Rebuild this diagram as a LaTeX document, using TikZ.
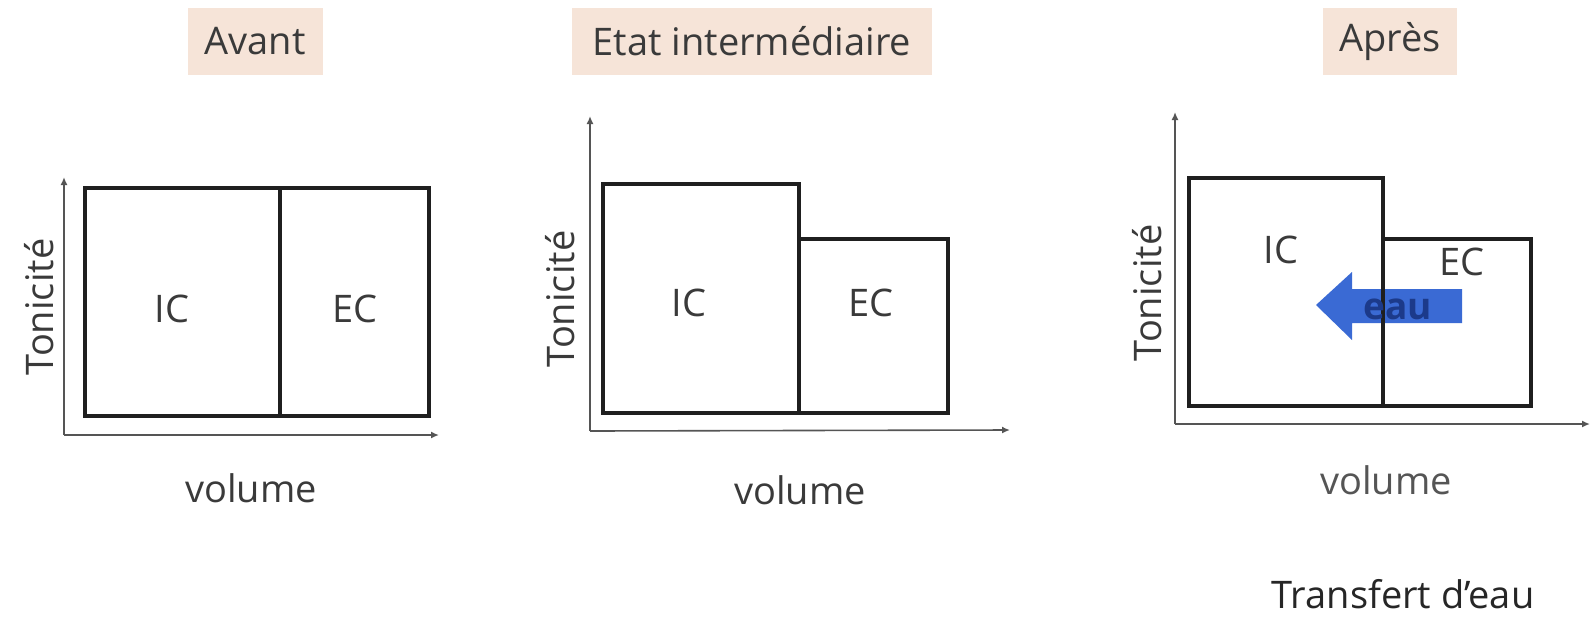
\documentclass[tikz,border=0pt]{standalone}
\usepackage{fontspec}
\setmainfont{Open Sans}
\usetikzlibrary{arrows.meta}
\definecolor{peach}{HTML}{F6E4D8}
\definecolor{txt}{HTML}{3A3A3A}
\definecolor{ax}{HTML}{555555}
\definecolor{arrowblue}{HTML}{3A6AD4}
\definecolor{navy}{HTML}{1C3A8A}
\begin{document}
\begin{tikzpicture}[x=0.5pt,y=-0.5pt,
  lbl/.style={font=\fontsize{19}{22}\selectfont, text=txt, inner sep=0pt},
  title/.style={lbl, fill=peach, minimum height=33.5pt},
  box/.style={line width=2pt, black!88},
  axis/.style={line width=0.8pt, ax, -{Latex[length=4pt,width=3.5pt]}}]
\useasboundingbox (0,0) rectangle (1592,617);
\fill[white] (0,0) rectangle (1592,617);

% ---------- Panel 1 : Avant ----------
\node[title, minimum width=67.5pt] (t1) at (255,41.5) {Avant};
\coordinate (o1) at (64,435);
\coordinate (y1) at (64,177);
\coordinate (x1) at (439,435);
\draw[axis] (o1) -- (y1);
\draw[axis] (o1) -- (x1);
\draw[box] (85,188) rectangle (429,416);
\draw[box] (280,188) -- (280,416);
\node[lbl] (ic1) at (172,309) {IC};
\node[lbl] (ec1) at (355,309) {EC};
\node[lbl, rotate=90] (ton1) at (39,307) {Tonicité};
\node[lbl] (vol1) at (251,488) {volume};

% ---------- Panel 2 : Etat intermediaire ----------
\node[title, minimum width=180pt] (t2) at (752,41.5) {Etat intermédiaire};
\coordinate (o2) at (590,431);
\coordinate (y2) at (590,116);
\coordinate (x2) at (1010,430);
\draw[axis] (o2) -- (y2);
\draw[axis] (o2) -- (x2);
\draw[box] (603,184) rectangle (799,413);
\draw[box] (799,239) rectangle (948,413);
\node[lbl] (ic2) at (689,303) {IC};
\node[lbl] (ec2) at (871,303) {EC};
\node[lbl, rotate=90] (ton2) at (560,299) {Tonicité};
\node[lbl] (vol2) at (800,490) {volume};

% ---------- Panel 3 : Apres ----------
\node[title, minimum width=67pt] (t3) at (1390,41.5) {Après};
\coordinate (o3) at (1175,424);
\coordinate (y3) at (1175,112);
\coordinate (x3) at (1590,424);
\draw[axis] (o3) -- (y3);
\draw[axis] (o3) -- (x3);
\fill[arrowblue] (1316,305) -- (1352,272) -- (1352,289) -- (1462,289)
  -- (1462,323) -- (1352,323) -- (1352,340) -- cycle;
\draw[box, line width=1.8pt] (1189,178) rectangle (1383,406);
\draw[box, line width=1.8pt] (1383,239) rectangle (1531,406);
\node[lbl] (ic3) at (1281,250) {IC};
\node[lbl] (ec3) at (1462,262) {EC};
\node[lbl, text=navy, font=\fontsize{18.5}{22}\selectfont\bfseries] (eau) at (1398,309) {eau};
\node[lbl, rotate=90] (ton3) at (1147,293) {Tonicité};
\node[lbl, text=ax] (vol3) at (1386,480) {volume};
\node[lbl, text=black!85] (trans) at (1403,594) {Transfert d’eau};
\end{tikzpicture}
\end{document}
